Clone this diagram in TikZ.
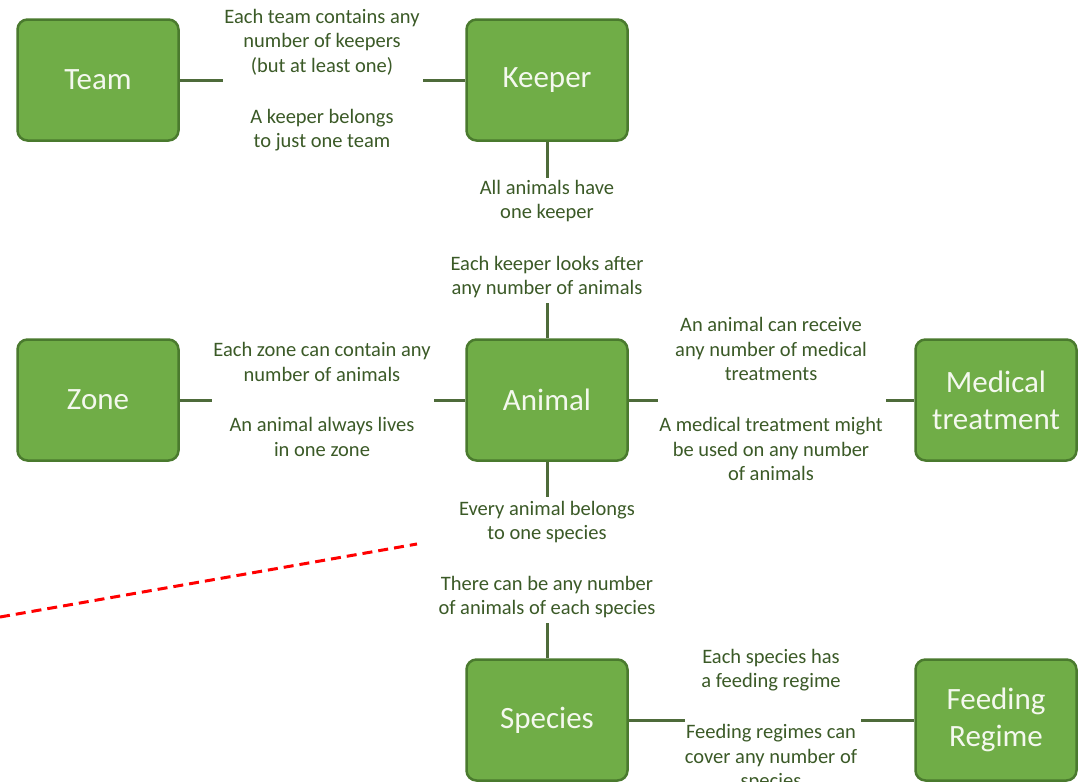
\documentclass[tikz,border=0pt]{standalone}
\usepackage{fontspec}
\setmainfont{Carlito}
\definecolor{boxgreen}{HTML}{70AD47}
\definecolor{boxedge}{HTML}{4A7A2E}
\definecolor{notegreen}{HTML}{3B5A27}
\definecolor{linkgreen}{HTML}{4E6B3A}
\definecolor{boxtext}{HTML}{F4F8EE}
\begin{document}
\begin{tikzpicture}[
  x=1pt, y=-1pt,
  entity/.style={rectangle, rounded corners=10pt, draw=boxedge, line width=2.5pt, fill=boxgreen,
    minimum width=161pt, minimum height=121pt, inner sep=0pt, text=boxtext, align=center,
    font=\fontsize{31}{37}\selectfont},
  note/.style={inner sep=0pt, text=notegreen, align=center, font=\fontsize{20.5}{24.5}\selectfont},
  link/.style={draw=linkgreen, line width=3pt}
]
\clip (0,0) rectangle (1080,782);
\fill[white] (0,0) rectangle (1080,782);
% entities
\node[entity] (team)    at (98,80)   {Team};
\node[entity] (keeper)  at (547,80)  {Keeper};
\node[entity] (zone)    at (98,400)  {Zone};
\node[entity] (animal)  at (547,400) {Animal};
\node[entity] (medical) at (996,400) {Medical\\treatment};
\node[entity] (species) at (547,720) {Species};
\node[entity] (feeding) at (996,720) {Feeding\\Regime};
% notes
\node[note] (tk)  at (322,42)  {Each team contains any\\number of keepers\\(but at least one)};
\node[note] (kt)  at (322,130) {A keeper belongs\\to just one team};
\node[note] (ka)  at (547,201) {All animals have\\one keeper};
\node[note] (ak)  at (547,277) {Each keeper looks after\\any number of animals};
\node[note] (za)  at (322,362) {Each zone can contain any\\number of animals};
\node[note] (az)  at (322,437) {An animal always lives\\in one zone};
\node[note] (am)  at (771,349) {An animal can receive\\any number of medical\\treatments};
\node[note] (ma)  at (771,449) {A medical treatment might\\be used on any number\\of animals};
\node[note] (as)  at (547,522) {Every animal belongs\\to one species};
\node[note] (sa)  at (547,597) {There can be any number\\of animals of each species};
\node[note] (sf)  at (771,670) {Each species has\\a feeding regime};
\node[note] (fs)  at (771,758) {Feeding regimes can\\cover any number of\\species};
% link ends
\coordinate (teamend)    at (223,80);
\coordinate (keeperend)  at (423,80);
\coordinate (keeperdown) at (547,178);
\coordinate (animalup)   at (547,303);
\coordinate (zoneend)    at (212,400);
\coordinate (animalleft) at (434,400);
\coordinate (animalright) at (658,400);
\coordinate (medicalend) at (886,400);
\coordinate (animaldown) at (547,497);
\coordinate (speciesup)  at (547,623);
\coordinate (speciesend) at (685,720);
\coordinate (feedingend) at (861,720);
\draw[link] (team.east) -- (teamend);
\draw[link] (keeperend) -- (keeper.west);
\draw[link] (keeper.south) -- (keeperdown);
\draw[link] (animalup) -- (animal.north);
\draw[link] (zone.east) -- (zoneend);
\draw[link] (animalleft) -- (animal.west);
\draw[link] (animal.east) -- (animalright);
\draw[link] (medicalend) -- (medical.west);
\draw[link] (animal.south) -- (animaldown);
\draw[link] (speciesup) -- (species.north);
\draw[link] (species.east) -- (speciesend);
\draw[link] (feedingend) -- (feeding.west);
% red cut line
\coordinate (cutstart) at (0,617);
\coordinate (cutend)   at (417,544);
\draw[red, line width=3pt, dash pattern=on 10pt off 6pt] (cutstart) -- (cutend);
\end{tikzpicture}
\end{document}
